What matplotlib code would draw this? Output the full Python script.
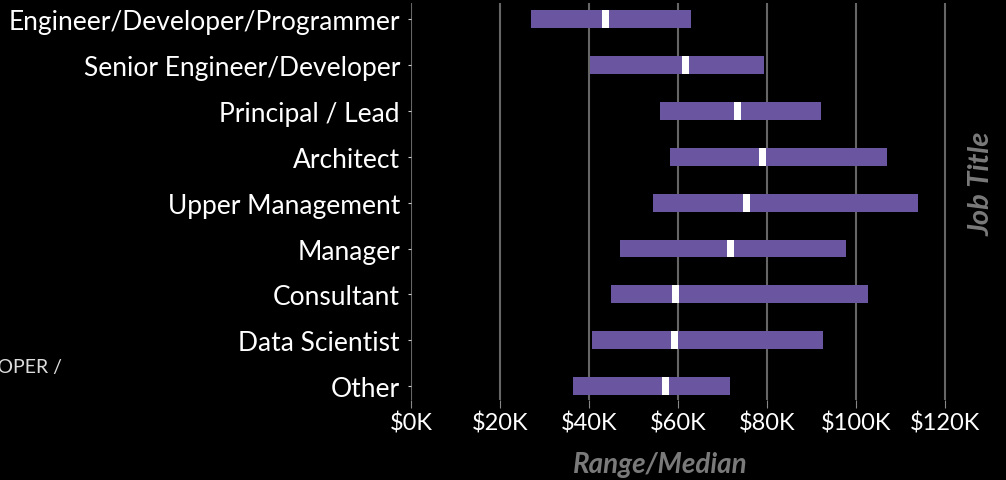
import matplotlib.pyplot as plt

# salary ranges in $K
titles = ["Engineer/Developer/Programmer", "Senior Engineer/Developer", "Principal / Lead",
          "Architect", "Upper Management", "Manager", "Consultant", "Data Scientist", "Other"]
low = [27.0, 40.2, 56.0, 58.2, 54.4, 47.0, 44.9, 40.7, 36.4]
high = [62.9, 79.3, 92.1, 107.0, 113.9, 97.8, 102.7, 92.6, 71.7]
median = [43.7, 61.7, 73.3, 78.9, 75.4, 71.8, 59.4, 59.3, 57.1]
ticks = [0, 20, 40, 60, 80, 100, 120]

plt.rcParams['font.family'] = ['Lato', 'DejaVu Sans']

fig = plt.figure(figsize=(10.06, 4.81), dpi=100, facecolor='black')
ax = fig.add_axes([411 / 1006, 1 - 401 / 481, 1 - 411 / 1006, 397 / 481])
ax.set_facecolor('black')

y = list(range(len(titles)))
widths = [h - l for l, h in zip(low, high)]
ax.barh(y, widths, left=low, height=0.39, color='#6a55a0', zorder=3)
ax.barh(y, 1.6, left=[m - 0.8 for m in median], height=0.39, color='white', zorder=4)

ax.set_xlim(0, 133.7)
ax.set_ylim(8.3, -0.35)
ax.set_xticks(ticks)
ax.set_xticklabels([f"${t}K" for t in ticks], color='white', fontsize=17)
ax.set_yticks(y)
ax.set_yticklabels(titles, color='white', fontsize=19)
ax.tick_params(axis='x', length=6, color='#888888', pad=2)
ax.tick_params(axis='y', length=2, color='#cccccc', pad=6)
ax.grid(axis='x', color='#666666', linewidth=1.5, zorder=1)
for s in ax.spines.values():
    s.set_visible(False)

ax.set_xlabel("Range/Median", color='#7a7a7a', fontsize=20, fontweight='bold',
              fontstyle='italic')
ax.xaxis.set_label_coords((660 - 411) / (1006 - 411), (401 - 452) / 397)
fig.text(982 / 1006, 1 - 184 / 481, "Job Title", rotation=90, color='#7a7a7a', fontsize=21,
         fontweight='bold', fontstyle='italic', ha='center', va='center')
fig.text(62 / 1006, 1 - 368 / 481, "DEVELOPER /", color='#dddddd', fontsize=14,
         ha='right', va='center')

fig.savefig("out.png", dpi=100, facecolor='black')
